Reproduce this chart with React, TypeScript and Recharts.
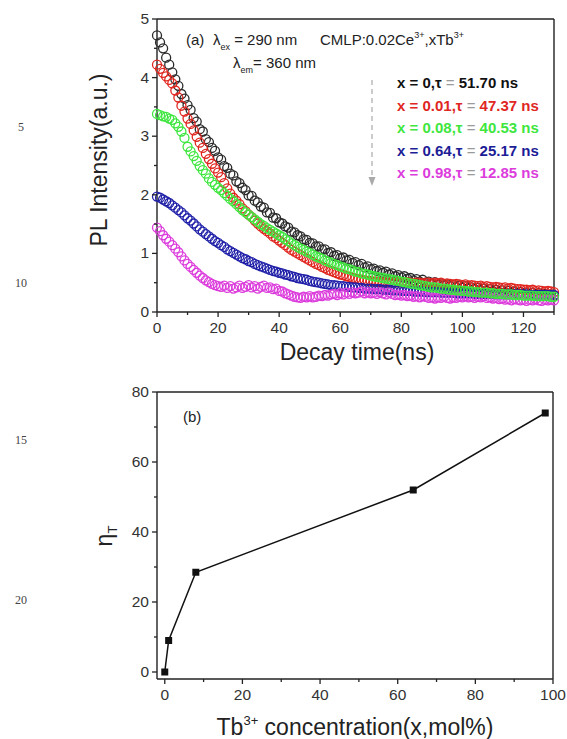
import { Line, LineChart, ReferenceLine, Scatter, ScatterChart, XAxis, YAxis } from 'recharts';

// time base of the decay traces (ns)
const decayTimes = [
  0, 1, 2, 3, 4, 5, 6, 7, 8, 9, 10, 11, 12, 13, 14, 15, 16, 17, 18, 19,
  20, 21, 22, 23, 24, 25, 26, 27, 28, 29, 30, 31, 32, 33, 34, 35, 36, 37, 38, 39,
  40, 41, 42, 43, 44, 45, 46, 47, 48, 49, 50, 51, 52, 53, 54, 55, 56, 57, 58, 59,
  60, 61, 62, 63, 64, 65, 66, 67, 68, 69, 70, 71, 72, 73, 74, 75, 76, 77, 78, 79,
  80, 81, 82, 83, 84, 85, 86, 87, 88, 89, 90, 91, 92, 93, 94, 95, 96, 97, 98, 99,
  100, 101, 102, 103, 104, 105, 106, 107, 108, 109, 110, 111, 112, 113, 114, 115, 116, 117, 118, 119,
  120, 121, 122, 123, 124, 125, 126, 127, 128, 129, 130,
];

// PL intensity (a.u.) for each Tb3+ content x
const intensityX0 = [
  4.72, 4.6, 4.5, 4.34, 4.22, 4.09, 3.97, 3.86, 3.72, 3.64,
  3.53, 3.45, 3.31, 3.25, 3.12, 3.08, 2.95, 2.9, 2.8, 2.75,
  2.64, 2.6, 2.49, 2.46, 2.36, 2.33, 2.23, 2.2, 2.12, 2.08,
  1.99, 1.98, 1.9, 1.87, 1.8, 1.78, 1.7, 1.69, 1.61, 1.6,
  1.53, 1.51, 1.46, 1.44, 1.37, 1.36, 1.31, 1.29, 1.24, 1.23,
  1.18, 1.17, 1.12, 1.12, 1.07, 1.07, 1.01, 1.02, 0.96, 0.97,
  0.92, 0.93, 0.88, 0.89, 0.84, 0.85, 0.8, 0.82, 0.76, 0.78,
  0.73, 0.74, 0.7, 0.71, 0.67, 0.69, 0.64, 0.66, 0.61, 0.63,
  0.59, 0.61, 0.57, 0.58, 0.54, 0.56, 0.52, 0.55, 0.5, 0.52,
  0.48, 0.51, 0.47, 0.49, 0.46, 0.47, 0.44, 0.46, 0.42, 0.45,
  0.41, 0.44, 0.4, 0.42, 0.39, 0.41, 0.37, 0.4, 0.36, 0.39,
  0.35, 0.38, 0.34, 0.37, 0.33, 0.36, 0.33, 0.35, 0.32, 0.34,
  0.31, 0.33, 0.3, 0.33, 0.3, 0.32, 0.29, 0.31, 0.29, 0.3, 0.28,
];
const intensityX001 = [
  4.22, 4.15, 4.08, 4.02, 3.96, 3.9, 3.78, 3.66, 3.52, 3.42,
  3.3, 3.21, 3.1, 2.99, 2.89, 2.8, 2.7, 2.61, 2.53, 2.45,
  2.38, 2.3, 2.2, 2.11, 2.02, 1.95, 1.9, 1.84, 1.77, 1.72,
  1.66, 1.62, 1.56, 1.51, 1.46, 1.42, 1.38, 1.34, 1.29, 1.26,
  1.22, 1.18, 1.14, 1.1, 1.06, 1.03, 1.0, 0.97, 0.94, 0.91,
  0.88, 0.85, 0.82, 0.8, 0.77, 0.75, 0.72, 0.7, 0.68, 0.66,
  0.64, 0.63, 0.61, 0.6, 0.58, 0.57, 0.56, 0.55, 0.54, 0.53,
  0.53, 0.52, 0.52, 0.51, 0.51, 0.5, 0.51, 0.5, 0.5, 0.51,
  0.5, 0.5, 0.51, 0.5, 0.49, 0.5, 0.5, 0.49, 0.5, 0.5,
  0.49, 0.5, 0.49, 0.5, 0.48, 0.49, 0.48, 0.47, 0.48, 0.47,
  0.46, 0.47, 0.45, 0.46, 0.45, 0.44, 0.45, 0.43, 0.44, 0.43,
  0.42, 0.43, 0.42, 0.41, 0.42, 0.4, 0.41, 0.4, 0.39, 0.39,
  0.38, 0.38, 0.37, 0.38, 0.36, 0.37, 0.36, 0.35, 0.36, 0.35, 0.34,
];
const intensityX008 = [
  3.38, 3.36, 3.34, 3.33, 3.3, 3.28, 3.22, 3.16, 3.08, 2.97,
  2.82, 2.74, 2.66, 2.58, 2.49, 2.42, 2.36, 2.28, 2.22, 2.17,
  2.12, 2.08, 2.03, 1.98, 1.93, 1.89, 1.84, 1.79, 1.74, 1.7,
  1.66, 1.62, 1.58, 1.54, 1.5, 1.47, 1.43, 1.4, 1.37, 1.34,
  1.31, 1.28, 1.24, 1.21, 1.17, 1.14, 1.11, 1.08, 1.06, 1.03,
  1.01, 0.98, 0.95, 0.93, 0.91, 0.88, 0.86, 0.84, 0.82, 0.8,
  0.78, 0.76, 0.74, 0.73, 0.71, 0.69, 0.68, 0.66, 0.65, 0.64,
  0.62, 0.61, 0.6, 0.59, 0.58, 0.57, 0.56, 0.55, 0.54, 0.53,
  0.52, 0.51, 0.5, 0.49, 0.48, 0.47, 0.46, 0.45, 0.44, 0.43,
  0.42, 0.42, 0.41, 0.4, 0.4, 0.39, 0.38, 0.38, 0.37, 0.37,
  0.36, 0.36, 0.35, 0.35, 0.34, 0.34, 0.33, 0.33, 0.33, 0.32,
  0.32, 0.31, 0.31, 0.31, 0.3, 0.3, 0.3, 0.29, 0.29, 0.29,
  0.28, 0.28, 0.28, 0.28, 0.27, 0.27, 0.27, 0.27, 0.27, 0.26, 0.26,
];
const intensityX064 = [
  1.97, 1.95, 1.92, 1.89, 1.86, 1.82, 1.78, 1.74, 1.7, 1.65,
  1.6, 1.56, 1.51, 1.46, 1.41, 1.37, 1.33, 1.29, 1.25, 1.21,
  1.18, 1.14, 1.11, 1.07, 1.04, 1.01, 0.98, 0.95, 0.92, 0.9,
  0.87, 0.85, 0.82, 0.8, 0.78, 0.76, 0.74, 0.72, 0.7, 0.69,
  0.67, 0.66, 0.64, 0.63, 0.61, 0.6, 0.58, 0.57, 0.56, 0.55,
  0.53, 0.52, 0.51, 0.5, 0.49, 0.48, 0.47, 0.46, 0.46, 0.45,
  0.44, 0.44, 0.43, 0.43, 0.42, 0.42, 0.41, 0.41, 0.4, 0.4,
  0.4, 0.39, 0.39, 0.39, 0.38, 0.38, 0.38, 0.37, 0.37, 0.37,
  0.36, 0.36, 0.36, 0.36, 0.35, 0.35, 0.35, 0.35, 0.34, 0.34,
  0.34, 0.34, 0.34, 0.33, 0.33, 0.33, 0.33, 0.33, 0.32, 0.32,
  0.32, 0.32, 0.32, 0.32, 0.31, 0.31, 0.31, 0.31, 0.31, 0.31,
  0.31, 0.3, 0.3, 0.3, 0.3, 0.3, 0.3, 0.3, 0.3, 0.3,
  0.3, 0.3, 0.29, 0.29, 0.29, 0.29, 0.29, 0.29, 0.29, 0.29, 0.29,
];
const intensityX098 = [
  1.44, 1.38, 1.31, 1.25, 1.2, 1.14, 1.08, 1.02, 0.95, 0.88,
  0.82, 0.77, 0.72, 0.67, 0.62, 0.58, 0.54, 0.51, 0.48, 0.46,
  0.44, 0.43, 0.45, 0.41, 0.44, 0.4, 0.42, 0.45, 0.41, 0.43,
  0.46, 0.42, 0.44, 0.4, 0.43, 0.45, 0.41, 0.42, 0.39, 0.4,
  0.36, 0.35, 0.32, 0.3, 0.28, 0.26, 0.25, 0.24, 0.26, 0.25,
  0.27, 0.25, 0.26, 0.28, 0.27, 0.29, 0.28, 0.3, 0.31, 0.29,
  0.32, 0.3, 0.33, 0.31, 0.34, 0.32, 0.33, 0.35, 0.32, 0.34,
  0.32, 0.33, 0.31, 0.34, 0.32, 0.3, 0.33, 0.31, 0.29, 0.3,
  0.28, 0.29, 0.27, 0.28, 0.26, 0.27, 0.25, 0.27, 0.26, 0.24,
  0.25, 0.23, 0.25, 0.24, 0.26, 0.24, 0.23, 0.25, 0.24, 0.26,
  0.25, 0.27, 0.25, 0.26, 0.24, 0.26, 0.25, 0.27, 0.24, 0.25,
  0.23, 0.24, 0.22, 0.23, 0.21, 0.22, 0.2, 0.22, 0.21, 0.2,
  0.21, 0.19, 0.21, 0.2, 0.22, 0.2, 0.19, 0.21, 0.2, 0.21, 0.2,
];

// legend rows: Tb content and fitted lifetime
const legendX = ['0', '0.01', '0.08', '0.64', '0.98'];
const legendTau = ['51.70', '47.37', '40.53', '25.17', '12.85'];

// energy transfer efficiency vs Tb3+ concentration
const tbConcentration = [0, 1, 8, 64, 98];
const transferEfficiency = [0, 9, 28.5, 52, 74];

const decayXTicks = [0, 10, 20, 30, 40, 50, 60, 70, 80, 90, 100, 110, 120, 130];
const decayYTicks = [0, 0.5, 1, 1.5, 2, 2.5, 3, 3.5, 4, 4.5, 5];
const concXTicks = [0, 10, 20, 30, 40, 50, 60, 70, 80, 90, 100];
const etaYTicks = [0, 10, 20, 30, 40, 50, 60, 70, 80];

const FONT = "Arial, 'Liberation Sans', sans-serif";
const INK = '#222';

const palette = {
  black: '#2a2a2a',
  red: '#e0261f',
  green: '#3ee63e',
  blue: '#1f1fa8',
  magenta: '#dc3cdc',
};

const legendColors = ['#111', palette.red, palette.green, '#1c1c96', palette.magenta];

// drawn in this order so green sits on top of the tails
const decaySeries = [
  { key: 'x0', values: intensityX0, color: palette.black },
  { key: 'x001', values: intensityX001, color: palette.red },
  { key: 'x064', values: intensityX064, color: palette.blue },
  { key: 'x098', values: intensityX098, color: palette.magenta },
  { key: 'x008', values: intensityX008, color: palette.green },
];

const isMajor = (v: number, step: number) => Math.abs(v / step - Math.round(v / step)) < 1e-6;

const makeXTick = (step: number) => (props: any) => {
  const { x, y, payload } = props;
  const major = isMajor(payload.value, step);
  return (
    <g>
      <line x1={x} x2={x} y1={y} y2={y + (major ? 5 : 3)} stroke={INK} strokeWidth={1.3} />
      {major && (
        <text x={x} y={y + 21} textAnchor="middle" fontSize={15.5} fontFamily={FONT} fill="#333">
          {payload.value}
        </text>
      )}
    </g>
  );
};

const makeYTick = (step: number) => (props: any) => {
  const { x, y, payload } = props;
  const major = isMajor(payload.value, step);
  return (
    <g>
      <line x1={x} x2={x - (major ? 5 : 3)} y1={y} y2={y} stroke={INK} strokeWidth={1.3} />
      {major && (
        <text x={x - 8} y={y + 5} textAnchor="end" fontSize={15.5} fontFamily={FONT} fill="#333">
          {payload.value}
        </text>
      )}
    </g>
  );
};

const hollowCircle = (color: string) => (props: any) => (
  <circle cx={props.cx} cy={props.cy} r={4.5} fill="none" stroke={color} strokeWidth={1.3} />
);

const squareDot = (props: any) => (
  <rect key={props.index} x={props.cx - 3.5} y={props.cy - 3.5} width={7} height={7} fill="#111" />
);

function DecayPanel() {
  return (
    <ScatterChart width={567} height={380} margin={{ top: 19, right: 13, bottom: 38, left: 117 }}>
      <XAxis
        type="number"
        dataKey="t"
        domain={[0, 130]}
        ticks={decayXTicks}
        interval={0}
        tickSize={0}
        tickMargin={0}
        tickLine={false}
        tick={makeXTick(20)}
        height={30}
        axisLine={{ stroke: INK, strokeWidth: 1.4 }}
      />
      <YAxis
        type="number"
        dataKey="v"
        domain={[0, 5]}
        ticks={decayYTicks}
        interval={0}
        tickSize={0}
        tickMargin={0}
        tickLine={false}
        tick={makeYTick(1)}
        width={40}
        axisLine={{ stroke: INK, strokeWidth: 1.4 }}
      />
      <ReferenceLine y={5} stroke={INK} strokeWidth={1.4} />
      <ReferenceLine x={130} stroke={INK} strokeWidth={1.4} />
      {decaySeries.map((s) => (
        <Scatter
          key={s.key}
          data={decayTimes.map((t, i) => ({ t, v: s.values[i] }))}
          shape={hollowCircle(s.color)}
          isAnimationActive={false}
        />
      ))}
    </ScatterChart>
  );
}

function EfficiencyPanel() {
  const data = tbConcentration.map((x, i) => ({ x, eta: transferEfficiency[i] }));
  return (
    <LineChart width={567} height={359} data={data} margin={{ top: 12, right: 14, bottom: 30, left: 117 }}>
      <XAxis
        type="number"
        dataKey="x"
        domain={[-2, 100]}
        ticks={concXTicks}
        interval={0}
        allowDataOverflow
        tickSize={0}
        tickMargin={0}
        tickLine={false}
        tick={makeXTick(20)}
        height={30}
        axisLine={{ stroke: INK, strokeWidth: 1.4 }}
      />
      <YAxis
        type="number"
        domain={[-2, 80]}
        ticks={etaYTicks}
        interval={0}
        allowDataOverflow
        tickSize={0}
        tickMargin={0}
        tickLine={false}
        tick={makeYTick(20)}
        width={40}
        axisLine={{ stroke: INK, strokeWidth: 1.4 }}
      />
      <ReferenceLine y={80} stroke={INK} strokeWidth={1.4} />
      <ReferenceLine x={100} stroke={INK} strokeWidth={1.4} />
      <Line
        type="linear"
        dataKey="eta"
        stroke="#111"
        strokeWidth={1.5}
        dot={squareDot}
        activeDot={false}
        isAnimationActive={false}
      />
    </LineChart>
  );
}

function Annotations() {
  const text = { fontFamily: FONT, fill: '#222' };
  return (
    <svg
      width={567}
      height={739}
      style={{ position: 'absolute', left: 0, top: 0, pointerEvents: 'none' }}
    >
      {/* manuscript line numbers */}
      {[
        ['5', 131],
        ['10', 287],
        ['15', 444],
        ['20', 604],
      ].map(([n, y]) => (
        <text key={n} x={21} y={y as number} textAnchor="middle" fontSize={12}
          fontFamily="'Liberation Serif', 'Times New Roman', serif" fill="#444">
          {n}
        </text>
      ))}

      {/* panel (a) */}
      <text x={186} y={45} fontSize={15} {...text}>(a)</text>
      <text x={213} y={45} fontSize={15} {...text}>
        λ<tspan fontSize={9} dy={5}>ex</tspan>
        <tspan dy={-5}> = 290 nm</tspan>
      </text>
      <text x={233} y={68} fontSize={15} {...text}>
        λ<tspan fontSize={9} dy={5}>em</tspan>
        <tspan dy={-5}>= 360 nm</tspan>
      </text>
      <text x={320} y={45} fontSize={15} {...text}>
        CMLP:0.02Ce<tspan fontSize={9} dy={-7}>3+</tspan>
        <tspan dy={7}>,xTb</tspan>
        <tspan fontSize={9} dy={-7}>3+</tspan>
      </text>

      <line x1={372} x2={372} y1={80} y2={178} stroke="#aaa" strokeWidth={1.2} strokeDasharray="5 4" />
      <polygon points="368.5,177 375.5,177 372,186" fill="#aaa" />

      {legendX.map((x, i) => (
        <text key={x} x={397} y={88 + i * 22.5} fontSize={15} fontWeight="bold"
          fontFamily={FONT} fill={legendColors[i]}>
          x = {x},τ <tspan fontWeight="normal" fill="#9a9a9a">=</tspan> {legendTau[i]} ns
        </text>
      ))}

      <text
        transform="translate(107,160) rotate(-90)"
        textAnchor="middle"
        fontSize={23}
        {...text}
      >
        PL Intensity(a.u.)
      </text>
      <text x={357} y={360} textAnchor="middle" fontSize={23} {...text}>
        Decay time(ns)
      </text>

      {/* panel (b) */}
      <text x={183} y={422} fontSize={15} {...text}>(b)</text>
      <text transform="translate(112,536) rotate(-90)" textAnchor="middle" fontSize={23} {...text}>
        η<tspan fontSize={13} dy={5}>T</tspan>
      </text>
      <text x={355} y={735} textAnchor="middle" fontSize={23} {...text}>
        Tb<tspan fontSize={13} dy={-10}>3+</tspan>
        <tspan dy={10}> concentration(x,mol%)</tspan>
      </text>
    </svg>
  );
}

export default function App() {
  return (
    <div style={{ position: 'absolute', left: 0, top: 0, width: 567, height: 739, background: '#fff' }}>
      <div style={{ position: 'absolute', left: 0, top: 0 }}>
        <DecayPanel />
      </div>
      <div style={{ position: 'absolute', left: 0, top: 380 }}>
        <EfficiencyPanel />
      </div>
      <Annotations />
    </div>
  );
}
